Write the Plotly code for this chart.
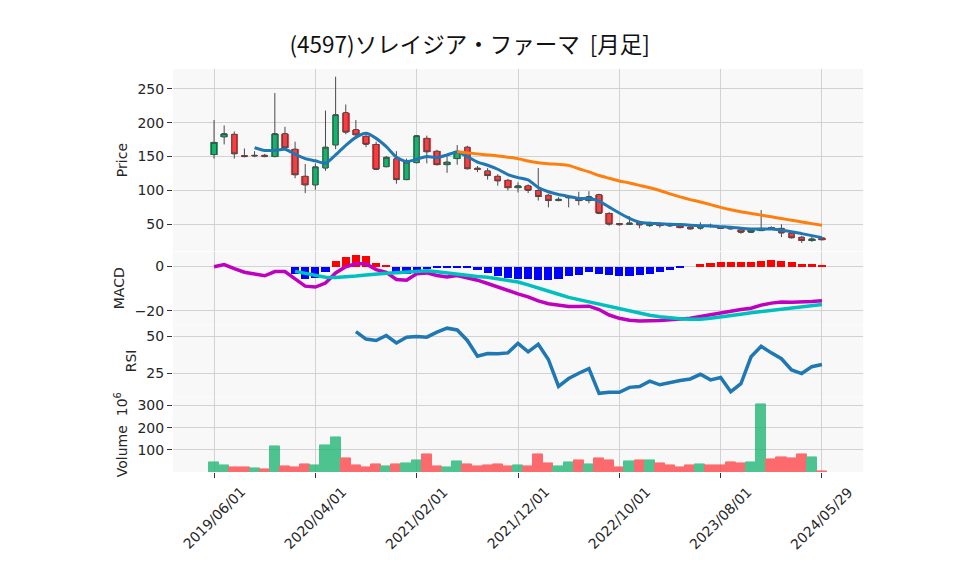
import plotly.graph_objects as go
from plotly.subplots import make_subplots

dates = [
    "2019/06/01", "2019/07/01", "2019/08/01", "2019/09/01", "2019/10/01", "2019/11/01", "2019/12/01",
    "2020/01/01", "2020/02/01", "2020/03/01", "2020/04/01", "2020/05/01", "2020/06/01",
    "2020/07/01", "2020/08/01", "2020/09/01", "2020/10/01", "2020/11/01", "2020/12/01",
    "2021/01/01", "2021/02/01", "2021/03/01", "2021/04/01", "2021/05/01", "2021/06/01",
    "2021/07/01", "2021/08/01", "2021/09/01", "2021/10/01", "2021/11/01", "2021/12/01",
    "2022/01/01", "2022/02/01", "2022/03/01", "2022/04/01", "2022/05/01", "2022/06/01",
    "2022/07/01", "2022/08/01", "2022/09/01", "2022/10/01", "2022/11/01", "2022/12/01",
    "2023/01/01", "2023/02/01", "2023/03/01", "2023/04/01", "2023/05/01", "2023/06/01",
    "2023/07/01", "2023/08/01", "2023/09/01", "2023/10/01", "2023/11/01", "2023/12/01",
    "2024/01/01", "2024/02/01", "2024/03/01", "2024/04/01", "2024/05/01", "2024/05/29",
]
tick_labels = ["2019/06/01", "2020/04/01", "2021/02/01", "2021/12/01", "2022/10/01",
               "2023/08/01", "2024/05/29"]

opens = [153, 179, 183, 151.5, 152, 152, 150, 184, 161, 121, 108, 133, 167, 215, 190, 180, 168, 135,
         147, 116, 141, 177, 158, 138, 147, 164, 133, 129, 121, 115, 104, 107, 100, 93, 85, 91, 89, 85,
         94, 66, 51, 50, 53, 48, 51, 50, 47.5, 46, 44, 48.5, 46, 46, 42, 38, 40.6, 45, 44, 37, 31, 26, 30]
highs = [204, 196, 187, 162, 158, 154, 244, 194, 172, 139, 140, 218, 268, 227, 204, 184, 172, 151,
         158, 147, 182, 181, 160, 150, 167, 166, 136, 133, 124, 117, 112, 109, 133, 95, 90, 93, 98, 99,
         95, 68, 52, 62, 54, 54, 53, 52, 48, 47, 53, 51, 47, 47, 43, 42, 71, 47, 50, 38, 33, 32, 30.5]
lows = [147, 168, 147, 149, 149, 149, 149, 160, 118, 96, 101, 129, 161, 183, 180, 164, 130, 134,
        110, 115, 140, 140, 137, 126, 138, 131, 127, 116, 107, 100, 97, 96, 85, 75, 84, 75, 78, 81,
        65, 48, 48, 49, 44, 46, 45, 46, 44, 42, 42, 45, 43, 42, 36, 37, 40, 42, 31, 29, 22.5, 24, 26.5]
closes = [171, 184, 154, 150, 151, 150, 184, 163, 123, 108, 135, 164, 212, 186, 182, 168, 131, 149,
          116, 142, 181, 157, 138, 142, 158, 132, 131.5, 122, 114, 104, 107, 100, 91, 85, 87, 89, 85, 91,
          66, 50, 49.5, 52, 49, 50, 48, 47.5, 45, 43, 47.5, 47, 44, 43, 38, 41, 44, 43.8, 37, 30, 26, 28.5, 27]

ma_short = [None, None, None, None, 163, 159, 159.3, 160.7, 153.6, 147, 143.8, 140.2, 152.5, 166.6,
            178.4, 184.3, 176.9, 164.7, 149, 142.6, 146, 150, 148.5, 152.4, 156.8, 150, 142, 137.2,
            131.3, 123.5, 119, 115.6, 104.4, 98, 94, 91.2, 88.2, 88.2, 84.3, 75.4, 66.6, 58.8, 53,
            51.5, 50.9, 50, 49.6, 48.7, 48, 47.5, 46.5, 45.6, 44, 43, 43, 43, 41.2, 39.1, 36.2, 33.2, 30.3]
ma_long = [None] * 24 + [157, 155.5, 154, 152.5, 151, 149, 147, 143.5, 141, 139.5, 138.5, 137, 132,
                         127.5, 122, 118, 114, 111, 107.5, 104, 100, 95, 90.5, 86.5, 83, 79, 75, 71.5,
                         68.5, 66, 63.5, 61, 58.5, 56, 53.5, 51, 48.5]

macd = [-0.1, 0.9, -1.0, -2.6, -3.4, -4.2, -2.3, -2.3, -5.6, -8.9, -9.3, -7.5, -2.9, -0.1, 1.2, 1.2,
        -1.4, -2.6, -5.9, -6.2, -3.3, -2.9, -4.1, -4.7, -4.1, -5.1, -6.2, -7.7, -9.4, -11.1, -12.4,
        -13.8, -15.6, -16.9, -17.6, -18.1, -18.1, -18.0, -19.5, -22.0, -23.5, -24.4, -24.7, -24.7,
        -24.5, -24.2, -23.8, -23.5, -22.7, -21.8, -21.0, -20.0, -19.5, -18.9, -17.5, -16.6, -16.1,
        -16.2, -16.2, -15.9, -15.5]
signal = [None] * 8 + [-2.2, -3.1, -4.1, -4.9, -5.0, -4.8, -4.3, -3.8, -3.3, -3.0, -2.8, -2.5, -2.1,
                       -1.9, -2.4, -3.0, -3.6, -4.1, -4.5, -4.9, -5.6, -6.2, -7.0, -8.3, -9.6, -11.1,
                       -12.6, -14.0, -15.0, -16.0, -16.9, -18.0, -19.2, -20.2, -21.2, -22.1, -22.8,
                       -23.3, -23.7, -23.9, -23.9, -23.5, -23.0, -22.3, -21.6, -21.0, -20.4, -19.8,
                       -19.2, -18.6, -18.0, -17.5, -17.2]
hist = [None] * 8 + [-3.2, -5.6, -5.1, -2.6, 2.7, 4.5, 5.4, 5.0, 1.7, 0.6, -3.2, -3.2, -2.9, -1.1,
                     -0.8, -0.6, -0.3, -0.8, -1.7, -2.9, -4.1, -5.0, -5.6, -5.8, -6.2, -6.2, -5.6,
                     -4.4, -3.8, -2.3, -3.2, -3.8, -4.4, -4.4, -3.8, -3.2, -2.6, -1.35, -0.3, 0.0,
                     1.35, 1.65, 2.26, 2.26, 2.26, 2.26, 2.7, 3.16, 2.7, 2.26, 1.35, 1.35, 0.9]
rsi = [None] * 14 + [53.0, 48.0, 47.1, 50.4, 45.4, 49.3, 49.7, 49.3, 52.6, 55.3, 54.1, 47.1, 36.6,
                     38.4, 38.2, 38.8, 45.2, 39.5, 44.5, 34.4, 16.4, 21.7, 25.2, 28.3, 11.8, 12.5,
                     12.5, 15.8, 16.4, 19.9, 17.5, 19.1, 20.4, 21.4, 24.5, 20.8, 22.4, 12.9, 18.2,
                     36.2, 43.2, 38.8, 34.9, 27.4, 25.0, 29.6, 31.1]
volume_m = [42.8, 29.3, 20.3, 20.3, 14.3, 9.8, 113.5, 23.3, 18.8, 32.3, 27.8, 117.9, 154, 59.3, 27.8,
            18.8, 32.3, 23.3, 32.3, 38.3, 50.3, 77.3, 23.3, 18.8, 47.3, 32.3, 23.3, 27.8, 32.3, 23.3,
            29.3, 23.3, 77.3, 38.3, 23.3, 42.8, 51.8, 32.3, 59.3, 51.8, 18.8, 47.3, 51.8, 51.8, 38.3,
            27.8, 18.8, 27.8, 32.3, 27.8, 27.8, 42.8, 38.3, 42.8, 304, 54.8, 63.8, 59.3, 77.3, 63.8, 3]

UP = "#14b36e"
DOWN = "#ff3b3f"
WICK = "#4a4a4a"
FONT = "Noto Sans CJK JP"
TICKFONT = "DejaVu Sans"
GRID = "#d2d2d2"
TXT = "#262626"

fig = make_subplots(rows=4, cols=1, shared_xaxes=True, vertical_spacing=0.0)

fig.add_trace(go.Candlestick(
    x=dates, open=opens, high=highs, low=lows, close=closes, whiskerwidth=0,
    increasing=dict(line=dict(color=WICK, width=1), fillcolor=UP),
    decreasing=dict(line=dict(color=WICK, width=1), fillcolor=DOWN),
    showlegend=False, hoverinfo="skip"), row=1, col=1)

body_base = [min(o, c) for o, c in zip(opens, closes)]
body_len = [max(abs(c - o), 0.9) for o, c in zip(opens, closes)]
body_col = [UP if c >= o else DOWN for o, c in zip(opens, closes)]
fig.add_trace(go.Bar(x=dates, y=body_len, base=body_base, width=0.74,
                     marker=dict(color=body_col, line=dict(width=0)), showlegend=False),
              row=1, col=1)

fig.add_trace(go.Scatter(x=dates, y=ma_short, mode="lines",
                         line=dict(color="#1f77b4", width=3, shape="spline", smoothing=0.6),
                         showlegend=False), row=1, col=1)
fig.add_trace(go.Scatter(x=dates, y=ma_long, mode="lines",
                         line=dict(color="#ff7f0e", width=3, shape="spline", smoothing=0.6),
                         showlegend=False), row=1, col=1)

hist_col = ["#ff0000" if (h is not None and h >= 0) else "#0000ff" for h in hist]
fig.add_trace(go.Bar(x=dates, y=hist, width=0.8, marker=dict(color=hist_col, line=dict(width=0)),
                     showlegend=False), row=2, col=1)
fig.add_trace(go.Scatter(x=dates, y=macd, mode="lines", line=dict(color="#bf00bf", width=3.5),
                         showlegend=False), row=2, col=1)
fig.add_trace(go.Scatter(x=dates, y=signal, mode="lines", line=dict(color="#00bfbf", width=3.5),
                         showlegend=False), row=2, col=1)

fig.add_trace(go.Scatter(x=dates, y=rsi, mode="lines", line=dict(color="#1f77b4", width=3.5),
                         showlegend=False), row=3, col=1)

vol_col = [UP if (i == 0 or closes[i] >= closes[i - 1]) else DOWN for i in range(len(closes))]
fig.add_trace(go.Bar(x=dates, y=volume_m, width=1.0, opacity=0.75,
                     marker=dict(color=vol_col, line=dict(color=vol_col, width=1)),
                     showlegend=False), row=4, col=1)

for r in range(1, 5):
    fig.update_xaxes(type="category", range=[-4.05, 64.05], tickvals=tick_labels,
                     showgrid=True, gridcolor=GRID, gridwidth=1, zeroline=False,
                     showline=False, showticklabels=False, row=r, col=1)
fig.update_xaxes(ticks="outside", ticklen=5, tickcolor="#333", row=4, col=1)

# rotated date labels centred under their ticks
for lbl in tick_labels:
    fig.add_annotation(x=lbl, xref="x4", y=0, yref="paper", yshift=-46, text=lbl,
                       textangle=-45, showarrow=False, xanchor="center", yanchor="middle",
                       font=dict(size=14, color=TXT, family=TICKFONT))

common_y = dict(showgrid=True, gridcolor=GRID, gridwidth=1, zeroline=False, ticks="outside",
                ticklen=5, tickcolor="#333", tickfont=dict(size=14, color=TXT, family=TICKFONT),
                title_font=dict(size=14, color=TXT, family=TICKFONT), title_standoff=6)
fig.update_yaxes(range=[10.3, 279.4], tickvals=[50, 100, 150, 200, 250], title_text="Price",
                 domain=[0.548, 1.0], row=1, col=1, **common_y)
fig.update_yaxes(range=[-26.3, 6.6], tickvals=[-20, 0], title_text="MACD",
                 domain=[0.366, 0.546], row=2, col=1, **common_y)
fig.update_yaxes(range=[9.6, 57.2], tickvals=[25, 50], title_text="RSI",
                 domain=[0.187, 0.364], row=3, col=1, **common_y)
fig.update_yaxes(range=[0, 336], tickvals=[100, 200, 300], title_text="Volume  10<sup>6</sup>",
                 domain=[0.0, 0.185], row=4, col=1, **common_y)

fig.update_layout(
    width=950, height=567,
    margin=dict(l=165, r=95, t=61, b=103),
    paper_bgcolor="white", plot_bgcolor="#f8f8f8",
    title=dict(text="(4597)ソレイジア・ファーマ  [月足]", x=0.486, xanchor="center",
               y=0.9347, yanchor="middle", font=dict(size=22.5, color="#111", family=FONT)),
    font=dict(family=TICKFONT, color=TXT),
    showlegend=False, bargap=0,
    xaxis_rangeslider_visible=False,
)

fig.write_html("out.html")
